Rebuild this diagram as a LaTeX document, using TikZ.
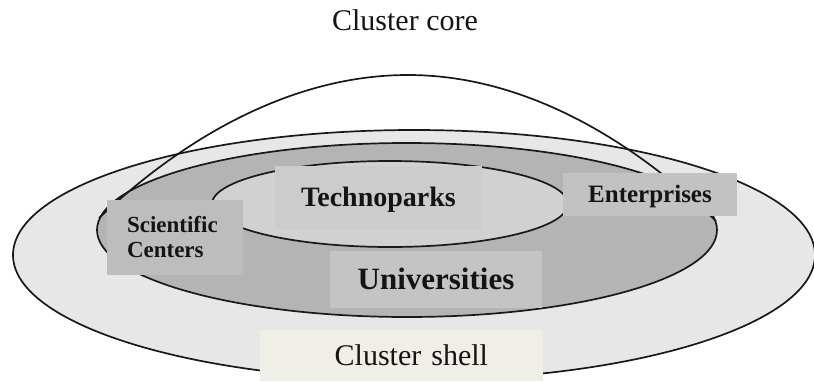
\documentclass[tikz,border=0pt]{standalone}
\usepackage{fontspec}
\setmainfont{Liberation Serif}
\usetikzlibrary{positioning}
\definecolor{shellgray}{RGB}{231,231,231}
\definecolor{coregray}{RGB}{180,180,180}
\definecolor{innergray}{RGB}{209,209,209}
\definecolor{shellbeige}{RGB}{240,239,231}

\begin{document}
\begin{tikzpicture}[
  x=1pt, y=-1pt,
  ring/.style={draw=black!90, line width=1.7pt},
  box/.style={inner sep=0pt, align=center, text=black!92},
  lbl/.style={font=\fontsize{30}{32}\selectfont},
  blbl/.style={font=\fontsize{#1}{#1}\selectfont\bfseries}
]
\useasboundingbox (0,0) rectangle (814,381);

% shell, core and the inner ring
\draw[ring, fill=shellgray] (414,255) ellipse [x radius=401pt, y radius=125pt];
\draw[ring, fill=coregray]  (407,230) ellipse [x radius=310pt, y radius=87pt];
\draw[ring, fill=innergray] (390,204) ellipse [x radius=178pt, y radius=43pt];
% dome of the core
\draw[ring] (99,218) parabola bend (408,75) (716,221);

\node[box, blbl=28, fill=black!20, text depth=0pt, minimum width=207pt, minimum height=63pt]
  (tech) at (378.5,197) {Technoparks};
\node[box, blbl=31, fill=black!23, text depth=0pt, minimum width=212pt, minimum height=57pt]
  (univ) at (436,279) {Universities};
\node[box, blbl=25, fill=black!24, text depth=0pt, minimum width=174pt, minimum height=43pt]
  (ent) at (650,194) {Enterprises};
\node[box, font=\fontsize{23}{25}\selectfont\bfseries, fill=black!26, align=left,
      inner xsep=20pt, text width=96pt, minimum height=75pt]
  (sci) at (175,237.5) {Scientific\\Centers};
\node[box, lbl, fill=shellbeige, align=right, inner xsep=55pt, text width=173pt,
      text depth=0pt, minimum height=51pt] (shell) at (401.5,355.5) {Cluster shell};

\node[box, lbl, text depth=0pt] (core) at (405,20) {Cluster core};
\end{tikzpicture}
\end{document}
